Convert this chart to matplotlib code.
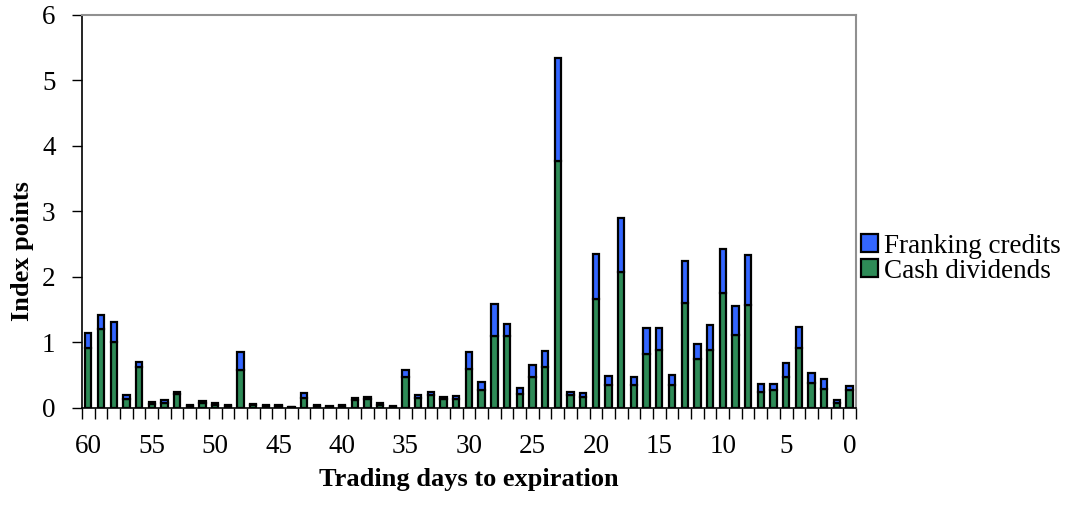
import matplotlib.pyplot as plt
import numpy as np

# trading days to expiration, 60 down to 0
days = list(range(60, -1, -1))

cash = [0.92, 1.20, 1.01, 0.13, 0.62, 0.06, 0.08, 0.21, 0.03, 0.07,
        0.05, 0.03, 0.58, 0.04, 0.03, 0.03, 0.01, 0.15, 0.03, 0.02,
        0.03, 0.12, 0.13, 0.05, 0.02, 0.47, 0.16, 0.20, 0.13, 0.14,
        0.60, 0.27, 1.10, 1.10, 0.21, 0.47, 0.63, 3.77, 0.20, 0.17,
        1.67, 0.35, 2.08, 0.35, 0.83, 0.88, 0.35, 1.61, 0.75, 0.88,
        1.75, 1.12, 1.57, 0.25, 0.27, 0.48, 0.92, 0.38, 0.29, 0.08,
        0.27]
franking = [0.23, 0.22, 0.30, 0.07, 0.08, 0.03, 0.04, 0.03, 0.01, 0.04,
            0.02, 0.01, 0.27, 0.02, 0.02, 0.01, 0.01, 0.08, 0.02, 0.01,
            0.02, 0.04, 0.04, 0.02, 0.01, 0.11, 0.04, 0.05, 0.04, 0.04,
            0.26, 0.13, 0.48, 0.18, 0.09, 0.18, 0.24, 1.58, 0.05, 0.06,
            0.68, 0.14, 0.82, 0.12, 0.39, 0.34, 0.16, 0.63, 0.23, 0.38,
            0.68, 0.43, 0.77, 0.12, 0.10, 0.21, 0.32, 0.15, 0.15, 0.04,
            0.07]

plt.rcParams['font.family'] = ['Liberation Serif', 'DejaVu Serif']

green = '#2e8b57'
blue = '#3366ff'

fig = plt.figure(figsize=(10.77, 5.13), dpi=100)
ax = fig.add_axes([0.0761, 0.2047, 0.7187, 0.7661])

x = np.arange(len(days))
ax.bar(x, cash, width=0.5, color=green, edgecolor='black', linewidth=1.6,
       label='Cash dividends')
ax.bar(x, franking, width=0.5, bottom=cash, color=blue, edgecolor='black',
       linewidth=1.6, label='Franking credits')

ax.set_xlim(-0.5, len(days) - 0.5)
ax.set_ylim(0, 6)
ax.set_yticks(range(0, 7))

# labels every 5 days, tick marks between categories
ax.set_xticks(x[::5])
ax.set_xticklabels([str(d) for d in days[::5]])
ax.set_xticks(np.arange(-0.5, len(days), 1), minor=True)
ax.tick_params(axis='x', which='major', length=0, pad=19, labelsize=19.5)
ax.tick_params(axis='x', which='minor', length=8, width=1, direction='out')
ax.tick_params(axis='y', length=7, width=1, direction='out', pad=12, labelsize=19.5)

for s in ['top', 'right']:
    ax.spines[s].set_color('#909090')
    ax.spines[s].set_linewidth(1.5)
for s in ['left', 'bottom']:
    ax.spines[s].set_color('black')
    ax.spines[s].set_linewidth(1.2)

ax.set_xlabel('Trading days to expiration', fontsize=19, fontweight='bold', labelpad=6)
ax.set_ylabel('Index points', fontsize=19, fontweight='bold')
ax.yaxis.set_label_coords(-0.062, 0.40)

handles, labels = ax.get_legend_handles_labels()
ax.legend(handles[::-1], labels[::-1], loc='center left', bbox_to_anchor=(1.0, 0.38),
          frameon=False, fontsize=19.5, handlelength=0.6, handleheight=0.6,
          handletextpad=0.25, labelspacing=0.0, borderaxespad=0.0, borderpad=0.2)

plt.savefig('out.png', dpi=100)
